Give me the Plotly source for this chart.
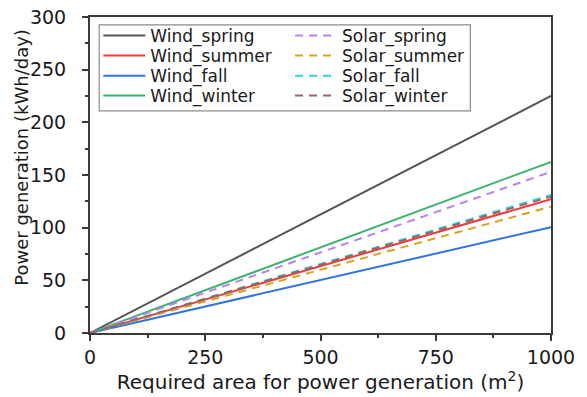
import plotly.graph_objects as go

area = [0, 1000]
names = ["Wind_spring", "Wind_summer", "Wind_fall", "Wind_winter",
         "Solar_spring", "Solar_summer", "Solar_fall", "Solar_winter"]
end_values = [225, 127, 100.5, 162.5, 153, 120, 131, 129.5]
colors = ["#555555", "#f03a3a", "#2f74e0", "#3cb371", "#bf7fee", "#d9a321", "#2ed3d3", "#9a6464"]
dashes = ["solid", "solid", "solid", "solid", "8px,6px", "8px,6px", "8px,6px", "8px,6px"]

font = "DejaVu Sans, Liberation Sans, Arial, sans-serif"

# legend layout: two columns of four rows
col_x = [0.018, 0.434]
row_y = [0.940, 0.877, 0.813, 0.750]

fig = go.Figure()
legends = {}
for i, (n, v, c, d) in enumerate(zip(names, end_values, colors, dashes)):
    key = "legend" if i == 0 else f"legend{i + 1}"
    fig.add_trace(go.Scatter(x=area, y=[0, v], mode="lines", name=n, legend=key,
                             line=dict(color=c, width=2, dash=d)))
    legends[key] = dict(x=col_x[i // 4], y=row_y[i % 4], xanchor="left", yanchor="middle",
                        bgcolor="rgba(0,0,0,0)", borderwidth=0, itemwidth=42,
                        font=dict(size=17, family=font, color="#1a1a1a"))

axis_common = dict(showgrid=False, zeroline=False, showline=True, linecolor="#3a3a3a",
                   linewidth=2, mirror=True, ticks="outside", ticklen=6, tickwidth=1.5,
                   tickcolor="#3a3a3a", automargin=False,
                   tickfont=dict(size=19, color="#1a1a1a", family=font))
fig.update_layout(
    width=587, height=397,
    margin=dict(l=90, r=36, t=17, b=64),
    paper_bgcolor="white", plot_bgcolor="white",
    font=dict(family=font, color="#1a1a1a"),
    showlegend=True,
    shapes=[dict(type="rect", xref="paper", yref="paper",
                 x0=0.02, x1=0.825, y0=0.703, y1=0.975,
                 line=dict(color="#8a8a8a", width=1.2), fillcolor="rgba(0,0,0,0)")],
    annotations=[dict(text="Power generation (kWh/day)", textangle=-90,
                      xref="paper", yref="paper", x=-0.148, y=0.557,
                      xanchor="center", yanchor="middle", showarrow=False,
                      font=dict(size=18, family=font, color="#1a1a1a"))],
    xaxis=dict(range=[0, 1000], tickvals=[0, 250, 500, 750, 1000],
               minor=dict(ticks="outside", ticklen=3, tickcolor="#3a3a3a", dtick=125),
               title=dict(text="Required area for power generation (m<sup>2</sup>)",
                          font=dict(size=20, family=font), standoff=6),
               **axis_common),
    yaxis=dict(range=[0, 300], tickvals=[0, 50, 100, 150, 200, 250, 300],
               minor=dict(ticks="outside", ticklen=3, tickcolor="#3a3a3a", dtick=25),
               ticklabelstandoff=12,
               **axis_common),
    **legends,
)
fig.write_html("out.html", config={"displayModeBar": False},
               post_script="document.body.style.margin='0';")
